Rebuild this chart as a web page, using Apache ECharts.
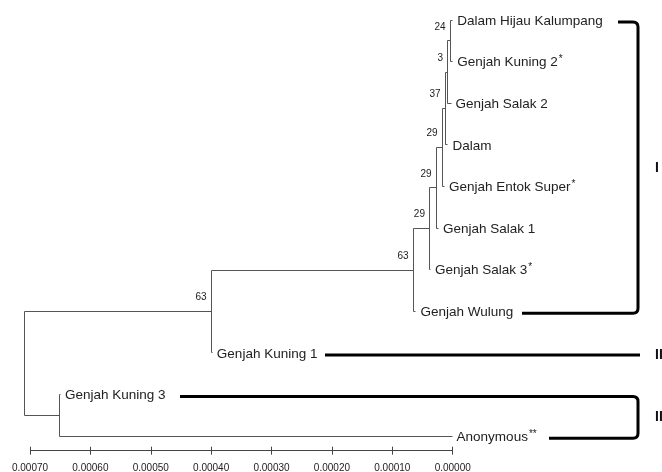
<!DOCTYPE html>
<html><head><meta charset="utf-8">
<script src="https://cdn.jsdelivr.net/npm/echarts@6/dist/echarts.min.js"></script>
<style>html,body{margin:0;padding:0;background:#fff}#c{width:662px;height:472px}</style>
</head><body><div id="c"></div>
<script>
// ---- data ----
const taxa = ['Dalam Hijau Kalumpang','Genjah Kuning 2','Genjah Salak 2','Dalam','Genjah Entok Super','Genjah Salak 1','Genjah Salak 3','Genjah Wulung','Genjah Kuning 1','Genjah Kuning 3','Anonymous'];
const taxonMarks = ['', '*', '', '', '*', '', '*', '', '', '', '**'];
const taxonDepth = [0, 0, 0.0000028, 0.0000078, 0.0000136, 0.0000235, 0.0000368, 0.0000608, 0.000398, 0.0006495, 0.000001];
const nodeIds = ['n7','n6','n5','n4','n3','n2','nI','nA','nK3','root'];
const nodeDepth = [0.0000036, 0.0000078, 0.0000119, 0.0000166, 0.0000268, 0.0000376, 0.0000649, 0.0003994, 0.0006515, 0.0007083];
const nodeChildren = [['t0','t1'],['n7','t2'],['n6','t3'],['n5','t4'],['n4','t5'],['n3','t6'],['n2','t7'],['nI','t8'],['t9','t10'],['nA','nK3']];
const bootstrap = [24, 3, 37, 29, 29, 29, 63, 63, null, null];
const scaleTicks = [0, 0.0001, 0.0002, 0.0003, 0.0004, 0.0005, 0.0006, 0.0007];
const clusterNames = ['I', 'II', 'III'];
const clusterFirst = [0, 8, 9];
const clusterLast = [7, 8, 10];

// ---- layout (pixels) ----
const bracketLayout = [
  {topStart: 618, bottomStart: 522},
  {topStart: 325, bottomStart: 325},
  {topStart: 180, bottomStart: 549}
];
const bracketX = 638, bracketR = 5, clusterLabelX = 655;
const yMax = 10.35;
const FONT = '"Liberation Sans", Arial, sans-serif';

// ---- build tree geometry in data space ----
const pos = {};
taxa.forEach((t, i) => { pos['t' + i] = {d: taxonDepth[i], y: i}; });
nodeIds.forEach((id, k) => {
  const ch = nodeChildren[k].map(c => pos[c]);
  pos[id] = {d: nodeDepth[k], y: (ch[0].y + ch[ch.length - 1].y) / 2};
});
const segments = [];
nodeIds.forEach((id, k) => {
  const n = pos[id];
  const ch = nodeChildren[k].map(c => pos[c]);
  segments.push([n.d, ch[0].y, n.d, ch[ch.length - 1].y]);
  ch.forEach(c => segments.push([n.d, c.y, c.d, c.y]));
});
const leafData = taxa.map((t, i) => [taxonDepth[i], i, i]);
const nodeData = nodeIds.map((id, k) => [pos[id].d, pos[id].y, k]).filter(r => bootstrap[r[2]] != null);
const clusterData = clusterNames.map((n, k) => [0, clusterFirst[k], clusterLast[k], k]);
const scaleBar = [[scaleTicks[scaleTicks.length - 1], yMax, scaleTicks[0], yMax]];

const crisp = v => Math.round(v - 0.5) + 0.5;

const chart = echarts.init(document.getElementById('c'), null, {renderer: 'canvas'});
chart.setOption({
  animation: false,
  backgroundColor: '#fff',
  grid: {left: 30, right: 209.3, top: 20, bottom: 21.3, containLabel: false, outerBoundsMode: 'none'},
  xAxis: {
    type: 'value', inverse: true, min: 0, max: 0.0007, interval: 0.0001, position: 'bottom', offset: -4,
    splitLine: {show: false},
    axisLine: {show: false, onZero: false},
    axisTick: {show: true, inside: false, length: 8, lineStyle: {color: '#444'}},
    axisLabel: {show: true, margin: 17, color: '#222', fontSize: 10, fontFamily: FONT,
      formatter: v => scaleTicks.some(t => Math.abs(t - v) < 1e-9) ? v.toFixed(5) : ''}
  },
  yAxis: {type: 'value', inverse: true, min: 0, max: yMax, show: false},
  series: [{
    type: 'custom', clip: false, data: segments.concat(scaleBar),
    encode: {x: [0, 2], y: [1, 3]},
    renderItem: (params, api) => {
      const p1 = api.coord([api.value(0), api.value(1)]);
      const p2 = api.coord([api.value(2), api.value(3)]);
      const isBar = params.dataIndex === segments.length;
      return {type: 'line', shape: {x1: crisp(p1[0]), y1: crisp(p1[1]), x2: crisp(p2[0]), y2: crisp(p2[1])},
        style: {stroke: isBar ? '#444' : '#555', lineWidth: 1}};
    }
  }, {
    type: 'custom', clip: false, data: leafData,
    encode: {x: 0, y: 1},
    renderItem: (params, api) => {
      const i = api.value(2);
      const p = api.coord([api.value(0), api.value(1)]);
      const mark = taxonMarks[i];
      return {type: 'text', x: p[0] + 4.5, y: p[1] + 1,
        style: {
          text: '{n|' + taxa[i] + '}' + (mark ? '{s|' + mark + '}' : ''),
          align: 'left', verticalAlign: 'middle',
          rich: {
            n: {fontSize: 13.5, fontFamily: FONT, fill: '#222', lineHeight: 16, verticalAlign: 'middle'},
            s: {fontSize: 10, fontFamily: FONT, fill: '#222', lineHeight: 10, verticalAlign: 'top', padding: [0, 0, 0, 1]}
          }
        }};
    }
  }, {
    type: 'custom', clip: false, data: nodeData,
    encode: {x: 0, y: 1},
    renderItem: (params, api) => {
      const k = api.value(2);
      const p = api.coord([api.value(0), api.value(1)]);
      return {type: 'text', x: p[0] - 5, y: p[1] - 14,
        style: {text: String(bootstrap[k]), align: 'right', verticalAlign: 'middle',
          fontSize: 10, fontFamily: FONT, fill: '#222'}};
    }
  }, {
    type: 'custom', clip: false, data: clusterData,
    encode: {x: 0, y: [1, 2]},
    renderItem: (params, api) => {
      const k = api.value(3);
      const yt = api.coord([0, api.value(1)])[1] + 2;
      const yb = api.coord([0, api.value(2)])[1] + 2;
      const L = bracketLayout[k];
      let d;
      if (yb - yt < 1) {
        d = 'M' + L.topStart + ' ' + yt + ' L' + (bracketX + 2) + ' ' + yt;
      } else {
        d = 'M' + L.topStart + ' ' + yt + ' L' + (bracketX - bracketR) + ' ' + yt +
          ' Q' + bracketX + ' ' + yt + ' ' + bracketX + ' ' + (yt + bracketR) +
          ' L' + bracketX + ' ' + (yb - bracketR) +
          ' Q' + bracketX + ' ' + yb + ' ' + (bracketX - bracketR) + ' ' + yb +
          ' L' + L.bottomStart + ' ' + yb;
      }
      return {type: 'group', children: [
        {type: 'path', shape: {pathData: d}, style: {stroke: '#000', lineWidth: 3, fill: null}},
        {type: 'text', x: clusterLabelX, y: (yt + yb) / 2,
          style: {text: clusterNames[k], align: 'left', verticalAlign: 'middle',
            fontSize: 14, fontWeight: 'bold', fontFamily: FONT, fill: '#111'}}
      ]};
    }
  }]
});
</script>
</body></html>
